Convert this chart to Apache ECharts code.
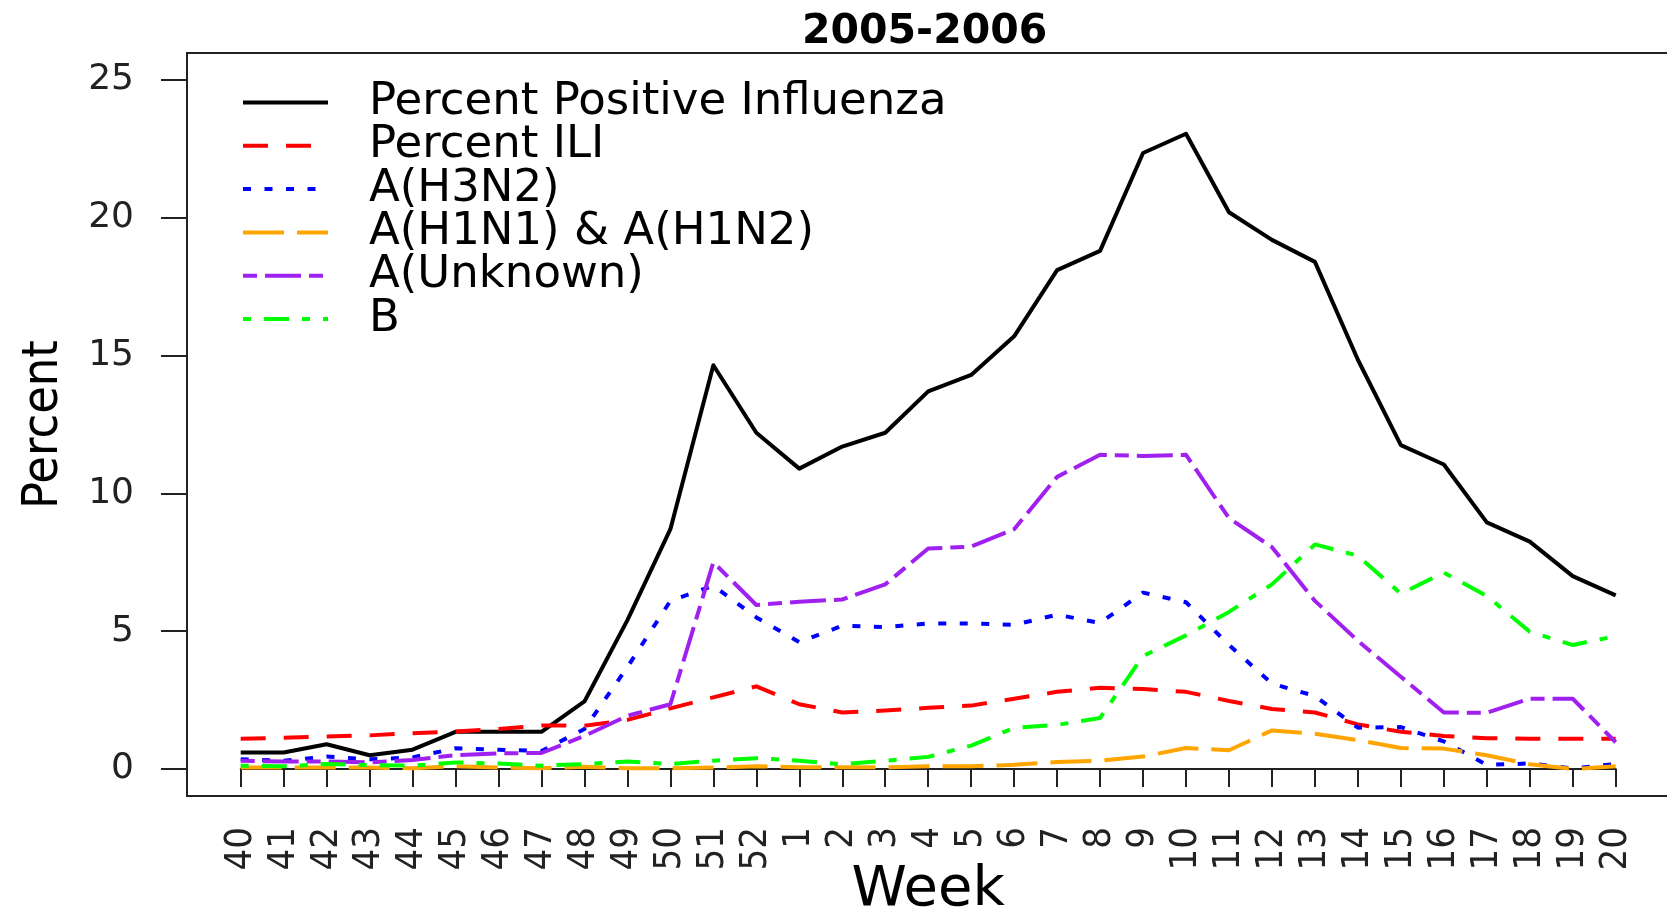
<!DOCTYPE html>
<html>
<head>
<meta charset="utf-8">
<title>2005-2006</title>
<script src="https://cdn.jsdelivr.net/npm/echarts@6/dist/echarts.min.js"></script>
<style>
    html, body { margin: 0; padding: 0; background: #fff; }
    #main { width: 1667px; height: 908px; }
</style>
</head>
<body>
<div id="main"></div>
<script>
// weeks of the 2005-2006 season
const weeks = ["40", "41", "42", "43", "44", "45", "46", "47", "48", "49", "50", "51", "52",
    "1", "2", "3", "4", "5", "6", "7", "8", "9", "10", "11", "12", "13", "14", "15", "16", "17", "18", "19", "20"];

const pctPositive = [0.6, 0.6, 0.9, 0.5, 0.7, 1.35, 1.35, 1.35, 2.45, 5.4, 8.7, 14.65, 12.2,
    10.9, 11.7, 12.2, 13.7, 14.3, 15.7, 18.1, 18.8, 22.35, 23.05, 20.2, 19.2, 18.4, 14.85, 11.75, 11.05, 8.95, 8.25, 7.0, 6.3];
const pctILI = [1.1, 1.13, 1.18, 1.22, 1.3, 1.36, 1.45, 1.58, 1.57, 1.78, 2.2, 2.6, 3.0,
    2.35, 2.05, 2.12, 2.22, 2.3, 2.55, 2.8, 2.95, 2.9, 2.8, 2.47, 2.18, 2.05, 1.62, 1.35, 1.2, 1.12, 1.1, 1.1, 1.1];
const h3n2 = [0.35, 0.3, 0.45, 0.35, 0.42, 0.75, 0.7, 0.65, 1.45, 3.7, 6.1, 6.65, 5.5,
    4.6, 5.2, 5.15, 5.28, 5.28, 5.23, 5.6, 5.3, 6.4, 6.05, 4.5, 3.1, 2.65, 1.5, 1.52, 1.0, 0.15, 0.2, 0.02, 0.18];
const h1n1h1n2 = [0.05, 0.05, 0.05, 0.05, 0.03, 0.1, 0.05, 0.03, 0.08, 0.03, 0.03, 0.05, 0.1,
    0.06, 0.06, 0.06, 0.1, 0.1, 0.15, 0.25, 0.3, 0.45, 0.76, 0.68, 1.4, 1.28, 1.05, 0.76, 0.74, 0.5, 0.17, 0.0, 0.1];
const aUnknown = [0.3, 0.27, 0.27, 0.24, 0.33, 0.5, 0.57, 0.58, 1.2, 1.93, 2.35, 7.5, 5.95,
    6.07, 6.15, 6.7, 8.0, 8.07, 8.7, 10.6, 11.4, 11.36, 11.4, 9.1, 8.05, 6.1, 4.65, 3.35, 2.05, 2.04, 2.55, 2.55, 0.97];
const typeB = [0.12, 0.1, 0.18, 0.14, 0.12, 0.24, 0.2, 0.12, 0.18, 0.27, 0.18, 0.3, 0.39,
    0.3, 0.17, 0.3, 0.44, 0.85, 1.49, 1.6, 1.85, 4.1, 4.85, 5.7, 6.7, 8.15, 7.74, 6.36, 7.13, 6.28, 4.98, 4.5, 4.82];

const yTicks = { min: 0, max: 25, interval: 5 };

const lines = [
    { name: "Percent Positive Influenza", data: pctPositive, color: "#000000", type: "solid" },
    { name: "Percent ILI", data: pctILI, color: "#ff0000", type: [25, 18] },
    { name: "A(H3N2)", data: h3n2, color: "#0000ff", type: [8, 13.5] },
    { name: "A(H1N1) & A(H1N2)", data: h1n1h1n2, color: "#ffa500", type: [41, 13] },
    { name: "A(Unknown)", data: aUnknown, color: "#a020f0", type: [14, 8, 36, 8] },
    { name: "B", data: typeB, color: "#00ff00", type: [8, 13, 25, 13] },
];

const FONT = "DejaVu Sans";
const NARROW = "'Liberation Sans Narrow', 'DejaVu Sans Condensed', sans-serif";

const chart = echarts.init(document.getElementById("main"), null, { renderer: "canvas" });

const option = {
    backgroundColor: "#fff",
    animation: false,
    title: {
        text: "2005-2006",
        left: 802,
        top: 12,
        padding: 0,
        textStyle: { fontFamily: FONT, fontWeight: "bold", fontSize: 41, color: "#000" }
    },
    legend: {
        orient: "vertical",
        left: 241,
        top: 80,
        padding: 0,
        itemGap: -1.7,
        itemWidth: 85,
        itemHeight: 14,
        data: lines.map(l => l.name),
        itemStyle: { opacity: 0 },
        lineStyle: { width: 4 },
        textStyle: {
            fontFamily: FONT, fontSize: 45, color: "#000",
            lineHeight: 41.5, padding: [0, 0, 0, 36]
        }
    },
    grid: {
        left: 240.7,
        right: 51.3,
        top: 80,
        bottom: 139,
        containLabel: false,
        outerBoundsMode: "none"
    },
    xAxis: {
        type: "category",
        data: weeks,
        boundaryGap: false,
        offset: 27,
        name: "Week",
        nameLocation: "middle",
        nameGap: 66,
        nameMoveOverlap: false,
        nameTextStyle: { fontFamily: FONT, fontSize: 56, color: "#000" },
        axisLine: { show: true, lineStyle: { color: "#222", width: 2 } },
        axisTick: { show: true, length: 18, interval: 0, lineStyle: { color: "#222", width: 2 } },
        axisLabel: {
            interval: 0, rotate: 90, margin: 31,
            fontFamily: NARROW, fontSize: 38, color: "#222"
        },
        splitLine: { show: false }
    },
    yAxis: {
        type: "value",
        min: yTicks.min,
        max: yTicks.max,
        interval: yTicks.interval,
        offset: 53.7,
        name: "Percent",
        nameLocation: "middle",
        nameRotate: 90,
        nameGap: 118,
        nameMoveOverlap: false,
        nameTextStyle: { fontFamily: NARROW, fontSize: 50, color: "#000" },
        axisLine: { show: true, lineStyle: { color: "#222", width: 2 } },
        axisTick: { show: true, length: 26, lineStyle: { color: "#222", width: 2 } },
        axisLabel: { margin: 53, fontFamily: FONT, fontSize: 36, color: "#222" },
        splitLine: { show: false }
    },
    graphic: [{
        type: "rect",
        z: 100,
        silent: true,
        shape: { x: 187, y: 53, width: 1483, height: 743 },
        style: { fill: null, stroke: "#222", lineWidth: 2 }
    }],
    series: lines.map(l => ({
        name: l.name,
        type: "line",
        data: l.data,
        symbol: "none",
        color: l.color,
        lineStyle: { color: l.color, width: 4, type: l.type, cap: "butt", join: "round" },
        emphasis: { disabled: true }
    }))
};

chart.setOption(option);
</script>
</body>
</html>
